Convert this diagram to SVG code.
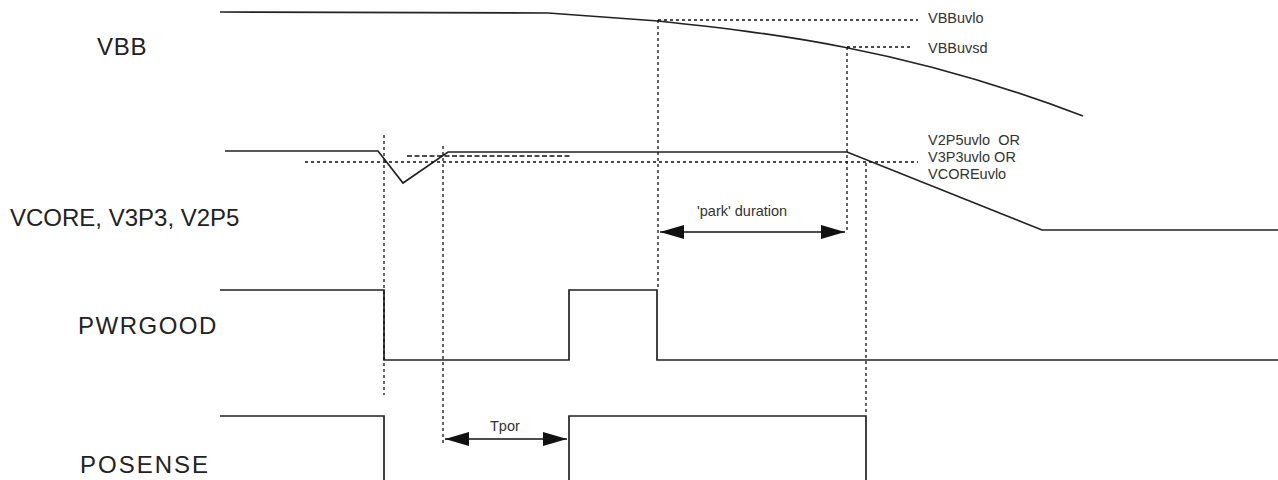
<svg xmlns="http://www.w3.org/2000/svg" width="1278" height="480" viewBox="0 0 1278 480">
<style>
.sig{fill:none;stroke:#222;stroke-width:1.7;stroke-linejoin:miter}
.dot{fill:none;stroke:#111;stroke-width:1.3;stroke-dasharray:3 3}
.dash{fill:none;stroke:#111;stroke-width:1.3;stroke-dasharray:5 2.5}
.big{font-family:"Liberation Sans",Arial,sans-serif;font-size:24px;fill:#222}
.small{font-family:"Liberation Sans",Arial,sans-serif;font-size:14.5px;fill:#333}
.arr{fill:none;stroke:#111;stroke-width:1.7}
</style>
<defs>
<marker id="ah" viewBox="0 0 24 14" refX="24" refY="7" markerWidth="24" markerHeight="14" markerUnits="userSpaceOnUse" orient="auto-start-reverse">
<path d="M0,0 L24,7 L0,14 Z" fill="#111"/>
</marker>
</defs>
<rect width="1278" height="480" fill="#fff"/>
<g id="labels">
<text class="big" x="97" y="55" letter-spacing="0.7">VBB</text>
<text class="big" x="10" y="226" font-size="20.5">VCORE, V3P3, V2P5</text>
<text class="big" x="78" y="334" letter-spacing="1.5">PWRGOOD</text>
<text class="big" x="80" y="473" letter-spacing="2">POSENSE</text>
</g>
<g id="vbb">
<path class="sig" d="M220,12 L548,13 L658,21 C770,33 905,48 1083,116"/>
<text class="small" x="928" y="23">VBBuvlo</text>
<text class="small" x="928" y="53">VBBuvsd</text>
</g>
<g id="vcore">
<polyline class="sig" points="225,151 378,151 403,183 448,152 847,152 1042,230 1278,230"/>
<text class="small" x="928" y="145" xml:space="preserve">V2P5uvlo  OR</text>
<text class="small" x="928" y="162">V3P3uvlo OR</text>
<text class="small" x="928" y="179">VCOREuvlo</text>
</g>
<g id="pwrgood">
<polyline class="sig" points="220,290 384,290 384,360 569,360 569,290 657,290 657,360 1278,360"/>
</g>
<g id="posense">
<polyline class="sig" points="220,416 384,416 384,480"/>
<polyline class="sig" points="569,480 569,416 866,416 866,480"/>
</g>
<g id="connectors">
<line class="dot" x1="658" y1="20" x2="918" y2="20"/>
<line class="dot" x1="847" y1="47" x2="912" y2="47"/>
<line class="dot" x1="305" y1="162" x2="918" y2="162"/>
<line class="dash" x1="407" y1="156" x2="570" y2="156"/>
<line class="dot" x1="384" y1="135" x2="384" y2="395"/>
<line class="dot" x1="443" y1="146" x2="443" y2="443"/>
<line class="dot" x1="658" y1="20" x2="658" y2="290"/>
<line class="dot" x1="847" y1="47" x2="847" y2="232"/>
<line class="dot" x1="866" y1="163" x2="866" y2="415"/>
<line class="arr" x1="660" y1="232" x2="845" y2="232" marker-start="url(#ah)" marker-end="url(#ah)"/>
<line class="arr" x1="445" y1="439" x2="567" y2="439" marker-start="url(#ah)" marker-end="url(#ah)"/>
<text class="small" x="697" y="216">'park' duration</text>
<text class="small" x="490" y="431">Tpor</text>
</g>
</svg>
